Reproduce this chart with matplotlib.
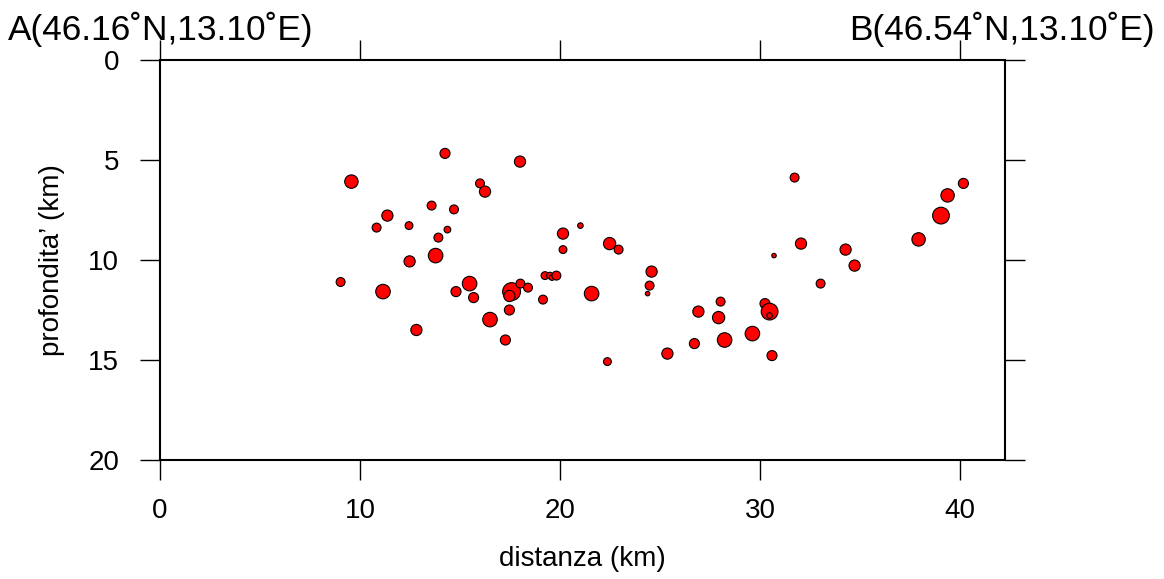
import matplotlib
matplotlib.use("Agg")
import matplotlib.pyplot as plt
import numpy as np

plt.rcParams['font.family'] = ['Liberation Sans', 'DejaVu Sans']

# Event data: distance along section (km), depth (km), magnitude
distance = [9.03, 9.57, 10.83, 11.15, 11.37, 12.45, 12.48, 12.82, 13.58, 13.78,
            13.92, 14.25, 14.37, 14.70, 14.80, 15.48, 15.68, 16.00, 16.25, 16.50,
            17.27, 17.47, 17.58, 17.47, 18.02, 18.00, 18.40, 19.15, 19.25, 19.50,
            19.60, 19.82, 20.15, 20.15, 21.02, 21.58, 22.48, 22.93, 22.37, 24.58,
            24.48, 24.38, 25.37, 26.72, 26.92, 27.93, 28.03, 28.23, 29.62, 30.25,
            30.48, 30.48, 30.60, 30.70, 31.73, 32.05, 33.03, 34.28, 34.73, 37.93,
            39.05, 39.38, 40.17]
depth = [11.10, 6.08, 8.38, 11.58, 7.78, 8.28, 10.07, 13.50, 7.28, 9.78,
         8.88, 4.67, 8.48, 7.47, 11.58, 11.18, 11.88, 6.17, 6.58, 12.98,
         14.00, 12.50, 11.58, 11.80, 11.18, 5.08, 11.38, 11.98, 10.78, 10.78,
         10.88, 10.78, 8.68, 9.48, 8.28, 11.68, 9.18, 9.48, 15.08, 10.58,
         11.28, 11.68, 14.68, 14.18, 12.58, 12.88, 12.08, 14.00, 13.68, 12.18,
         12.58, 12.78, 14.78, 9.78, 5.88, 9.18, 11.18, 9.48, 10.28, 8.97,
         7.78, 6.77, 6.17]
magnitude = [1.33, 2.00, 1.33, 2.17, 1.67, 1.17, 1.67, 1.67, 1.33, 2.17,
             1.33, 1.50, 1.00, 1.33, 1.50, 2.17, 1.50, 1.33, 1.67, 2.17,
             1.50, 1.50, 2.67, 1.67, 1.33, 1.67, 1.33, 1.33, 1.17, 1.00,
             0.83, 1.33, 1.67, 1.17, 0.83, 2.17, 1.83, 1.33, 1.17, 1.67,
             1.33, 0.67, 1.67, 1.50, 1.67, 1.83, 1.33, 2.17, 2.17, 1.50,
             2.50, 0.83, 1.50, 0.67, 1.33, 1.67, 1.33, 1.67, 1.67, 2.00,
             2.50, 2.00, 1.50]

x_ticks = [0, 10, 20, 30, 40]
y_ticks = [0, 5, 10, 15, 20]
x_label = "distanza (km)"
y_label = "profondita\u2019 (km)"
label_A = "A(46.16\u02daN,13.10\u02daE)"
label_B = "B(46.54\u02daN,13.10\u02daE)"

W, H = 1164, 579
fig = plt.figure(figsize=(W / 100, H / 100), dpi=100)
ax = fig.add_axes([160 / W, 1 - 460 / H, 845 / W, 400 / H])

# marker size derived from magnitude -> diameter in points
diam_pt = np.array(magnitude) * 6.7 * 0.72
ax.scatter(distance, depth, s=diam_pt ** 2, c='#ff0000', edgecolors='black',
           linewidths=0.8, zorder=3)

ax.set_xlim(0, 42.25)
ax.set_ylim(20, 0)
ax.set_xticks(x_ticks)
ax.set_yticks(y_ticks)
ax.tick_params(axis='both', direction='out', length=14.4, width=1.0,
               labelsize=20, top=True, right=True, labeltop=False, labelright=False)
ax.tick_params(axis='x', pad=13)
ax.tick_params(axis='y', pad=15)
for sp in ax.spines.values():
    sp.set_linewidth(1.5)

ax.set_xlabel(x_label, fontsize=20)
ax.xaxis.set_label_coords(0.5, -0.215)
ax.set_ylabel(y_label, fontsize=20)
ax.yaxis.set_label_coords(-0.112, 0.5)

fig.text(8 / W, 1 - 40 / H, label_A, fontsize=25.4, ha='left', va='baseline')
fig.text(1155 / W, 1 - 40 / H, label_B, fontsize=25.4, ha='right', va='baseline')

fig.savefig("out.png", dpi=100)
